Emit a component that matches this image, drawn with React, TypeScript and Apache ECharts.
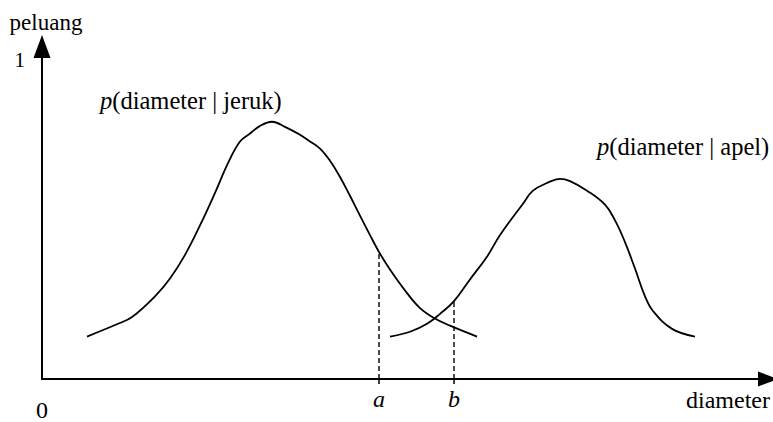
import React, { useEffect, useRef } from "react";
import * as echarts from "echarts";

// x in arbitrary diameter units (axis 0..100), y = probability
const jerukX = [6.2, 10.47, 12.4, 15.56, 17.63, 19.7, 21.76, 23.83, 25.62, 27.27, 28.65, 30.03, 31.68, 33.47, 35.54, 36.91, 38.29, 39.67, 41.05, 42.42, 43.8, 45.18, 46.42, 47.93, 50.28, 52.07, 53.99, 56.2, 59.92];
const jerukY = [0.133, 0.173, 0.194, 0.259, 0.315, 0.389, 0.481, 0.583, 0.676, 0.744, 0.769, 0.793, 0.806, 0.79, 0.765, 0.744, 0.722, 0.684, 0.633, 0.574, 0.512, 0.451, 0.398, 0.343, 0.269, 0.222, 0.191, 0.167, 0.133];
const apelX = [47.93, 50.69, 53.03, 54.82, 56.75, 58.95, 61.29, 63.09, 66.25, 67.63, 69.56, 71.35, 72.73, 75.07, 77.55, 78.93, 80.3, 81.68, 83.06, 84.16, 86.78, 89.94];
const apelY = [0.133, 0.148, 0.173, 0.204, 0.244, 0.312, 0.383, 0.451, 0.549, 0.59, 0.614, 0.627, 0.62, 0.59, 0.546, 0.497, 0.429, 0.346, 0.259, 0.213, 0.157, 0.133];

const xTickValues = [0, 46.42, 56.75];
const xTickLabels = ["0", "a", "b"];
const yTickValues = [1];
const yTickLabels = ["1"];
const dashX = [46.42, 56.75];
const dashTop = [0.398, 0.244];
const curveLabels = ["(diameter | jeruk)", "(diameter | apel)"];

const FONT = "Liberation Serif";

export default function App() {
  const ref = useRef<HTMLDivElement>(null);
  useEffect(() => {
    if (!ref.current) return;
    const chart = echarts.init(ref.current, null, { renderer: "svg" });
    const zip = (xs: number[], ys: number[]) => xs.map((x, i) => [x, ys[i]]);
    const lineStyle = { color: "#000", width: 1.8 };
    const labelStyle = (t: string) => ({
      text: `{i|p}{n|${t}}`,
      fontFamily: FONT,
      fontSize: 24.5,
      fill: "#000",
      rich: {
        i: { fontStyle: "italic", fontFamily: FONT, fontSize: 24.5, fill: "#000" },
        n: { fontFamily: FONT, fontSize: 24.5, fill: "#000" },
      },
    });
    chart.setOption({
      animation: false,
      backgroundColor: "#fff",
      textStyle: { fontFamily: FONT },
      grid: { left: 42, right: 5, top: 46.5, bottom: 38, containLabel: false },
      xAxis: {
        type: "value",
        min: 0,
        max: 100,
        name: "diameter",
        nameLocation: "end",
        nameGap: 2,
        nameTextStyle: { fontFamily: FONT, fontSize: 24, color: "#000", align: "right", verticalAlign: "top", padding: [9, 0, 0, 0] },
        axisLine: { show: true, symbol: ["none", "triangle"], symbolSize: [15, 20], lineStyle: { color: "#000", width: 2 } },
        axisTick: { show: true, customValues: xTickValues.slice(1), length: 5, inside: false, lineStyle: { color: "#000", width: 1.5 } },
        splitLine: { show: false },
        axisLabel: {
          customValues: xTickValues,
          margin: 8,
          fontFamily: FONT,
          fontSize: 24,
          color: "#000",
          formatter: (v: number) => {
            const i = xTickValues.findIndex((t) => Math.abs(t - v) < 1e-6);
            const t = i >= 0 ? xTickLabels[i] : "";
            return i === 0 ? `{n|${t}}` : `{i|${t}}`;
          },
          rich: {
            n: { fontFamily: FONT, fontSize: 24, color: "#000", padding: [11, 0, 0, 0] },
            i: { fontFamily: FONT, fontSize: 24, color: "#000", fontStyle: "italic" },
          },
        },
      },
      yAxis: {
        type: "value",
        min: 0,
        max: 1.0417,
        name: "peluang",
        nameLocation: "end",
        nameGap: 13,
        nameTextStyle: { fontFamily: FONT, fontSize: 23, color: "#000", padding: [0, 0, 0, 8] },
        axisLine: { show: true, symbol: ["none", "triangle"], symbolSize: [17, 23], lineStyle: { color: "#000", width: 2 } },
        axisTick: { show: false },
        splitLine: { show: false },
        axisLabel: {
          customValues: yTickValues,
          margin: 17,
          fontFamily: FONT,
          fontSize: 21,
          color: "#000",
          formatter: (v: number) => {
            const i = yTickValues.findIndex((t) => Math.abs(t - v) < 1e-6);
            return i >= 0 ? yTickLabels[i] : "";
          },
        },
      },
      graphic: [
        { type: "text", left: 100, top: 88, style: labelStyle(curveLabels[0]) },
        { type: "text", left: 597, top: 134, style: labelStyle(curveLabels[1]) },
      ],
      series: [
        { type: "line", data: zip(jerukX, jerukY), smooth: 0.4, symbol: "none", lineStyle },
        { type: "line", data: zip(apelX, apelY), smooth: 0.4, symbol: "none", lineStyle },
        ...dashX.map((x, i) => ({
          type: "line",
          data: [[x, 0], [x, dashTop[i]]],
          symbol: "none",
          lineStyle: { color: "#000", width: 1.4, type: [5, 3] },
        })),
      ],
    });
    return () => chart.dispose();
  }, []);
  return <div ref={ref} style={{ position: "absolute", left: 0, top: 0, width: 773, height: 422 }} />;
}
